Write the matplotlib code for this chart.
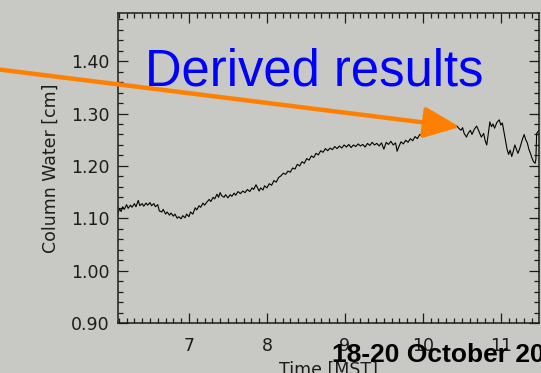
import matplotlib
matplotlib.use("Agg")
import matplotlib.pyplot as plt
from matplotlib.ticker import MultipleLocator, FormatStrFormatter

# Column water time series (hours MST, cm)
hours = [
    6.09, 6.11, 6.13, 6.15, 6.17, 6.20, 6.22, 6.25, 6.27, 6.30, 6.32, 6.35, 6.37, 6.40,
    6.42, 6.45, 6.47, 6.50, 6.52, 6.55, 6.57, 6.60, 6.62, 6.65, 6.67, 6.70, 6.72, 6.75,
    6.77, 6.80, 6.82, 6.85, 6.87, 6.90, 6.92, 6.95, 6.97, 7.00, 7.02, 7.05, 7.08, 7.10,
    7.13, 7.15, 7.18, 7.20, 7.23, 7.26, 7.28, 7.31, 7.33, 7.36, 7.38, 7.40, 7.42, 7.45,
    7.47, 7.50, 7.53, 7.55, 7.58, 7.60, 7.63, 7.66, 7.69, 7.72, 7.75, 7.78, 7.81, 7.83,
    7.86, 7.88, 7.90, 7.92, 7.95, 7.97, 8.00, 8.03, 8.06, 8.09, 8.12, 8.15, 8.18, 8.21,
    8.24, 8.27, 8.30, 8.33, 8.36, 8.39, 8.42, 8.45, 8.48, 8.51, 8.54, 8.57, 8.60, 8.63,
    8.66, 8.69, 8.72, 8.75, 8.78, 8.81, 8.84, 8.87, 8.90, 8.93, 8.96, 8.99, 9.02, 9.05,
    9.08, 9.11, 9.14, 9.17, 9.20, 9.23, 9.26, 9.29, 9.32, 9.35, 9.38, 9.41, 9.44, 9.47,
    9.50, 9.53, 9.56, 9.59, 9.62, 9.65, 9.67, 9.69, 9.72, 9.75, 9.78, 9.81, 9.84, 9.87,
    9.90, 9.93, 9.96, 9.99, 10.02, 10.05, 10.08, 10.11, 10.14, 10.17, 10.20, 10.24, 10.28,
    10.32, 10.36, 10.40, 10.43, 10.46, 10.49, 10.51, 10.53, 10.56, 10.58, 10.61, 10.63,
    10.66, 10.69, 10.72, 10.75, 10.78, 10.80, 10.82, 10.84, 10.86, 10.88, 10.90, 10.92,
    10.95, 10.98, 11.00, 11.02, 11.04, 11.06, 11.08, 11.10, 11.12, 11.14, 11.16, 11.18,
    11.20, 11.22, 11.24, 11.26, 11.28, 11.30, 11.32, 11.34, 11.36, 11.38, 11.40, 11.42,
    11.44, 11.45, 11.46, 11.48, 11.50,
]
column_water = [
    1.110, 1.118, 1.113, 1.122, 1.117, 1.126, 1.119, 1.125, 1.121, 1.128, 1.122, 1.134, 1.124, 1.128,
    1.123, 1.129, 1.125, 1.130, 1.124, 1.128, 1.122, 1.126, 1.114, 1.112, 1.117, 1.108, 1.112, 1.106,
    1.110, 1.104, 1.108, 1.100, 1.103, 1.099, 1.105, 1.101, 1.108, 1.103, 1.112, 1.108, 1.120, 1.116,
    1.124, 1.121, 1.129, 1.125, 1.131, 1.136, 1.132, 1.140, 1.137, 1.146, 1.140, 1.149, 1.143, 1.140,
    1.145, 1.139, 1.145, 1.142, 1.148, 1.144, 1.151, 1.147, 1.152, 1.149, 1.155, 1.151, 1.158, 1.155,
    1.164, 1.158, 1.152, 1.158, 1.154, 1.162, 1.158, 1.166, 1.163, 1.172, 1.169, 1.178, 1.181, 1.186,
    1.184, 1.190, 1.188, 1.196, 1.194, 1.203, 1.200, 1.208, 1.205, 1.214, 1.211, 1.219, 1.216, 1.224,
    1.221, 1.229, 1.226, 1.233, 1.229, 1.234, 1.231, 1.237, 1.233, 1.238, 1.234, 1.240, 1.236, 1.241,
    1.235, 1.240, 1.237, 1.242, 1.238, 1.241, 1.236, 1.243, 1.239, 1.245, 1.240, 1.243, 1.238, 1.244,
    1.232, 1.245, 1.241, 1.247, 1.240, 1.244, 1.228, 1.236, 1.246, 1.242, 1.249, 1.245, 1.252, 1.248,
    1.256, 1.252, 1.260, 1.257, 1.265, 1.262, 1.271, 1.268, 1.275, 1.272, 1.278, 1.275, 1.280,
    1.276, 1.279, 1.274, 1.277, 1.272, 1.268, 1.273, 1.262, 1.255, 1.262, 1.268, 1.260,
    1.270, 1.276, 1.266, 1.255, 1.262, 1.248, 1.240, 1.262, 1.284, 1.275, 1.280, 1.272,
    1.283, 1.288, 1.278, 1.282, 1.265, 1.248, 1.232, 1.222, 1.230, 1.218, 1.228, 1.240,
    1.232, 1.224, 1.232, 1.242, 1.252, 1.260, 1.250, 1.244, 1.232, 1.224, 1.215, 1.208,
    1.205, 1.212, 1.262, 1.266, 1.270,
]
x_ticks = [7, 8, 9, 10, 11]
y_ticks = [0.90, 1.00, 1.10, 1.20, 1.30, 1.40]

W, H, DPI = 541, 373, 100
bg = "#c8c9c5"
ink = "#1c1c1c"

fig = plt.figure(figsize=(W / DPI, H / DPI), dpi=DPI, facecolor=bg)
ax = fig.add_axes([118 / W, 1 - 323 / H, (539 - 118) / W, (323 - 13) / H], facecolor=bg)

ax.plot(hours, column_water, color="black", lw=0.8)
ax.set_xlim(6.09, 11.49)
ax.set_ylim(0.90, 1.492)

ax.set_xticks(x_ticks)
ax.set_xticklabels([str(t) for t in x_ticks])
ax.set_yticks(y_ticks)
ax.yaxis.set_major_formatter(FormatStrFormatter("%.2f"))
ax.xaxis.set_minor_locator(MultipleLocator(0.1))
ax.yaxis.set_minor_locator(MultipleLocator(0.02))
ax.tick_params(which="both", direction="in", top=True, right=True, color=ink, width=0.9)
ax.tick_params(which="major", length=7)
ax.tick_params(which="minor", length=3.5)
ax.tick_params(axis="y", which="major", labelsize=12.5, labelcolor=ink, pad=6)
ax.tick_params(axis="x", which="major", labelsize=12.5, labelcolor=ink, pad=10)
for s in ax.spines.values():
    s.set_color(ink)
    s.set_linewidth(1.1)

ax.set_ylabel("Column Water [cm]", fontsize=12.5, color=ink, labelpad=8)
ax.set_xlabel("Time [MST]", fontsize=12.5, color=ink, labelpad=4)

# overlay in pixel units for annotations
ov = fig.add_axes([0, 0, 1, 1], facecolor="none")
ov.set_xlim(0, W)
ov.set_ylim(H, 0)
ov.axis("off")

ov.annotate("", xy=(460, 127), xytext=(-5, 69),
            arrowprops=dict(arrowstyle="-|>,head_length=2.2,head_width=0.95",
                            lw=3.2, color="#ff8000", shrinkA=0, shrinkB=0,
                            mutation_scale=10))
ov.text(145, 85, "Derived results", color="#0000ff", fontsize=36.5,
        family="Liberation Sans", ha="left", va="baseline")
ov.text(332, 362, "18-20 October 20", color="black", fontsize=19,
        family="Liberation Sans", weight="bold", ha="left", va="baseline")

fig.savefig("out.png", dpi=DPI, facecolor=bg)
